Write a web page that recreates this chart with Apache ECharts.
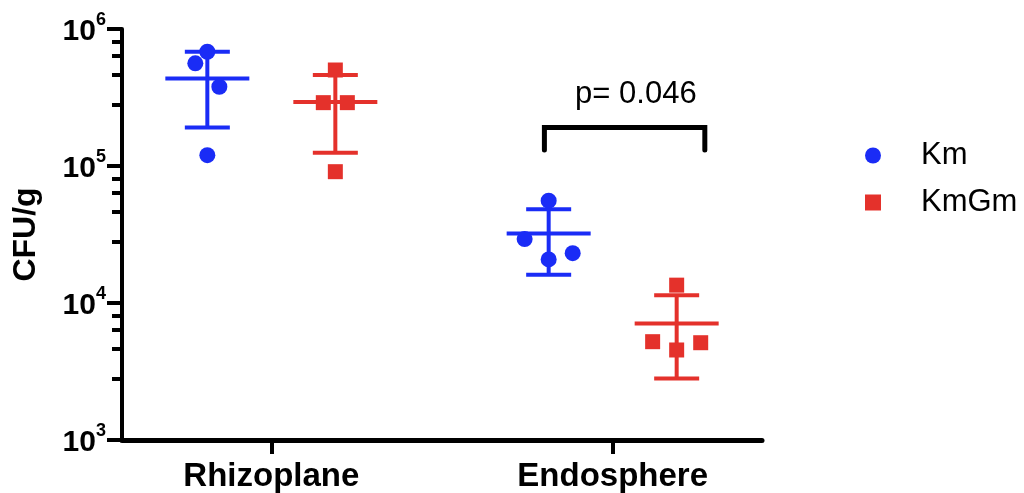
<!DOCTYPE html>
<html><head><meta charset="utf-8">
<script src="https://cdn.jsdelivr.net/npm/echarts@6/dist/echarts.min.js"></script>
<style>html,body{margin:0;padding:0;background:#fff}#chart{width:1024px;height:493px}</style>
</head><body><div id="chart"></div>
<script>
// ---- data ----
const categories = ['Rhizoplane', 'Endosphere'];
const seriesNames = ['Km', 'KmGm'];
const kmValues = [[6.82e5, 5.62e5, 3.79e5, 1.20e5], [5.58e4, 2.93e4, 2.08e4, 2.31e4]];
const kmgmValues = [[5.02e5, 2.90e5, 2.90e5, 9.09e4], [1.35e4, 5.22e3, 4.54e3, 5.13e3]];
const kmJitter = [[0, -1, 1, 0], [0, -2, 0, 2]];
const kmgmJitter = [[0, -1, 1, 0], [0, -2, 0, 2]];
const kmMean = [4.36e5, 3.22e4];
const kmSD = [2.45e5, 1.61e4];
const kmgmMean = [2.93e5, 7.10e3];
const kmgmSD = [1.68e5, 4.29e3];
const yTickValues = [1e3, 1e4, 1e5, 1e6];
const minorMultiples = [2.8, 4.6, 6.4, 8.1];
const pValueText = 'p= 0.046';
// annotation (bracket) in data space
const bracketX = [1.80, 2.27];
const bracketY = [1.31e5, 1.91e5];
const pLabelAt = [2.068, 3.35e5];

// ---- layout constants ----
const GROUP_OFFSET = 0.1875;
const JITTER = 0.0352;
const FONT = '"Liberation Sans", Arial, Helvetica, sans-serif';
const BLUE = '#1a2cf6';
const RED = '#e4312b';

const minorTicks = [];
[1e3, 1e4, 1e5].forEach(d => minorMultiples.forEach(m => minorTicks.push(m * d)));

function points(values, jitter, sign) {
  const out = [];
  values.forEach((arr, i) => arr.forEach((v, j) => {
    out.push([i + 1 + sign * GROUP_OFFSET + jitter[i][j] * JITTER, v]);
  }));
  return out;
}
function bars(mean, sd, sign) {
  return mean.map((m, i) => [i + 1 + sign * GROUP_OFFSET, m, m - sd[i], m + sd[i]]);
}
function errRender(color) {
  return function (params, api) {
    const x = api.value(0);
    const pm = api.coord([x, api.value(1)]);
    const pl = api.coord([x, api.value(2)]);
    const ph = api.coord([x, api.value(3)]);
    const st = { stroke: color, lineWidth: 4, lineCap: 'butt', fill: null };
    return {
      type: 'group', children: [
        { type: 'line', shape: { x1: pm[0], y1: ph[1], x2: pm[0], y2: pl[1] }, style: st },
        { type: 'line', shape: { x1: pm[0] - 42, y1: pm[1], x2: pm[0] + 42, y2: pm[1] }, style: st },
        { type: 'line', shape: { x1: pm[0] - 22.5, y1: ph[1], x2: pm[0] + 22.5, y2: ph[1] }, style: st },
        { type: 'line', shape: { x1: pm[0] - 22.5, y1: pl[1], x2: pm[0] + 22.5, y2: pl[1] }, style: st }
      ]
    };
  };
}

const chart = echarts.init(document.getElementById('chart'), null, { renderer: 'canvas' });
chart.setOption({
  animation: false,
  backgroundColor: '#fff',
  textStyle: { fontFamily: FONT },
  grid: { left: 122, top: 29, width: 640, height: 411, containLabel: false },
  legend: {
    orient: 'vertical', left: 865, top: 140, padding: 0,
    itemWidth: 16, itemHeight: 16, itemGap: 16,
    data: [{ name: seriesNames[0], icon: 'circle' }, { name: seriesNames[1], icon: 'rect' }],
    textStyle: { fontSize: 31, fontFamily: FONT, color: '#000', lineHeight: 30, padding: [0, 0, 0, 35] }
  },
  xAxis: {
    type: 'value', min: 0.5625, max: 2.4375,
    axisLine: { show: true, onZero: false, lineStyle: { color: '#000', width: 5 } },
    axisTick: { show: true, customValues: [1, 2], length: 14, lineStyle: { color: '#000', width: 4 } },
    axisLabel: {
      customValues: [1, 2], formatter: v => categories[Math.round(v) - 1] || '',
      fontSize: 33, fontWeight: 'bold', color: '#000', margin: 20, fontFamily: FONT
    },
    splitLine: { show: false }
  },
  yAxis: [{
    type: 'log', logBase: 10, min: 1e3, max: 1e6,
    axisLine: { show: true, lineStyle: { color: '#000', width: 4 } },
    axisTick: { show: true, customValues: yTickValues, length: 15, lineStyle: { color: '#000', width: 4 } },
    axisLabel: {
      customValues: yTickValues, margin: 16,
      formatter: v => '{b|10}{s|' + Math.round(Math.log10(v)) + '}',
      rich: {
        b: { fontSize: 30, fontWeight: 'bold', color: '#000', fontFamily: FONT, lineHeight: 36, verticalAlign: 'bottom' },
        s: { fontSize: 18, fontWeight: 'bold', color: '#000', fontFamily: FONT, lineHeight: 20, verticalAlign: 'top' }
      }
    },
    name: 'CFU/g', nameLocation: 'middle', nameGap: 80, nameRotate: 90,
    nameTextStyle: { fontSize: 32, fontWeight: 'bold', color: '#000', fontFamily: FONT },
    splitLine: { show: false }
  }, {
    type: 'log', logBase: 10, min: 1e3, max: 1e6, position: 'left', offset: 0,
    axisLine: { show: false },
    axisTick: { show: true, customValues: minorTicks, length: 10, lineStyle: { color: '#000', width: 4 } },
    axisLabel: { show: false },
    splitLine: { show: false }
  }],
  series: [
    { type: 'custom', name: 'Km SD', renderItem: errRender(BLUE), data: bars(kmMean, kmSD, -1), encode: { x: 0, y: [1, 2, 3] }, z: 2, silent: true },
    { type: 'custom', name: 'KmGm SD', renderItem: errRender(RED), data: bars(kmgmMean, kmgmSD, 1), encode: { x: 0, y: [1, 2, 3] }, z: 2, silent: true },
    { type: 'scatter', name: seriesNames[0], symbol: 'circle', symbolSize: 16, itemStyle: { color: BLUE, opacity: 1 }, data: points(kmValues, kmJitter, -1), z: 3 },
    { type: 'scatter', name: seriesNames[1], symbol: 'rect', symbolSize: 15, itemStyle: { color: RED, opacity: 1 }, data: points(kmgmValues, kmgmJitter, 1), z: 3 },
    {
      type: 'line', name: 'bracket', silent: true, symbol: 'none', z: 4,
      data: [[bracketX[0], bracketY[0]], [bracketX[0], bracketY[1]], [bracketX[1], bracketY[1]], [bracketX[1], bracketY[0]]],
      lineStyle: { color: '#000', width: 5, cap: 'round', join: 'miter' }
    },
    {
      type: 'scatter', name: 'pvalue', silent: true, symbol: 'circle', symbolSize: 0,
      itemStyle: { color: '#000', opacity: 1 },
      data: [pLabelAt], z: 5,
      label: { show: true, position: 'inside', formatter: pValueText, fontSize: 31, color: '#000', opacity: 1, textBorderWidth: 0, fontFamily: FONT }
    }
  ]
});
</script>
</body></html>
